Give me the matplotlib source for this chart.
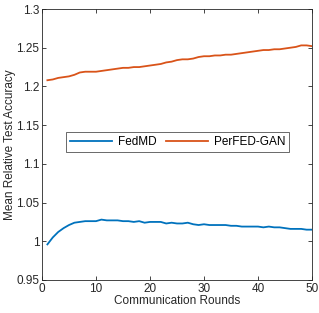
import matplotlib
matplotlib.use("Agg")
import matplotlib.pyplot as plt

matplotlib.rcParams['font.family'] = 'Liberation Sans'
matplotlib.rcParams['font.size'] = 8.5

rounds = list(range(1, 51))
fedmd = [0.996, 1.005, 1.012, 1.017, 1.021, 1.024, 1.025, 1.026, 1.026, 1.026,
         1.028, 1.027, 1.027, 1.027, 1.026, 1.026, 1.025, 1.026, 1.024, 1.025,
         1.025, 1.025, 1.023, 1.024, 1.023, 1.023, 1.024, 1.022, 1.021, 1.022,
         1.021, 1.021, 1.021, 1.021, 1.020, 1.020, 1.019, 1.019, 1.019, 1.019,
         1.018, 1.019, 1.018, 1.018, 1.017, 1.016, 1.016, 1.016, 1.015, 1.015]
perfed_gan = [1.208, 1.209, 1.211, 1.212, 1.213, 1.215, 1.218, 1.219, 1.219, 1.219,
              1.220, 1.221, 1.222, 1.223, 1.224, 1.224, 1.225, 1.225, 1.226, 1.227,
              1.228, 1.229, 1.231, 1.232, 1.234, 1.235, 1.235, 1.236, 1.238, 1.239,
              1.239, 1.240, 1.240, 1.241, 1.241, 1.242, 1.243, 1.244, 1.245, 1.246,
              1.247, 1.247, 1.248, 1.248, 1.249, 1.250, 1.251, 1.253, 1.253, 1.252]

fig = plt.figure(figsize=(3.19, 3.13), dpi=100)
ax = fig.add_axes([42/319, 1 - 280/313, 270/319, 271/313])

ax.plot(rounds, fedmd, color='#0072BD', lw=1.3, label='FedMD')
ax.plot(rounds, perfed_gan, color='#D95319', lw=1.3, label='PerFED-GAN')

ax.set_xlim(0, 50)
ax.set_ylim(0.95, 1.3)
ax.set_xticks([0, 10, 20, 30, 40, 50])
ax.set_yticks([0.95, 1, 1.05, 1.1, 1.15, 1.2, 1.25, 1.3])
ax.set_yticklabels(['0.95', '1', '1.05', '1.1', '1.15', '1.2', '1.25', '1.3'])
ax.tick_params(direction='in', top=True, right=True, length=3, width=0.6,
               colors='#262626', labelsize=8.5, pad=2)
for s in ax.spines.values():
    s.set_color('#262626')
    s.set_linewidth(0.6)

ax.set_xlabel('Communication Rounds', color='#262626', labelpad=0)
ax.set_ylabel('Mean Relative Test Accuracy', color='#262626', labelpad=0)

leg = ax.legend(loc='center', ncol=2, fancybox=False, edgecolor='#262626',
                handlelength=3.6, handletextpad=0.45, columnspacing=0.8,
                borderpad=0.35, borderaxespad=0, fontsize=8.5,
                bbox_to_anchor=(177.5/319, 1 - 142/313),
                bbox_transform=fig.transFigure)
leg.get_frame().set_linewidth(0.6)

plt.savefig('out.png', dpi=100)
